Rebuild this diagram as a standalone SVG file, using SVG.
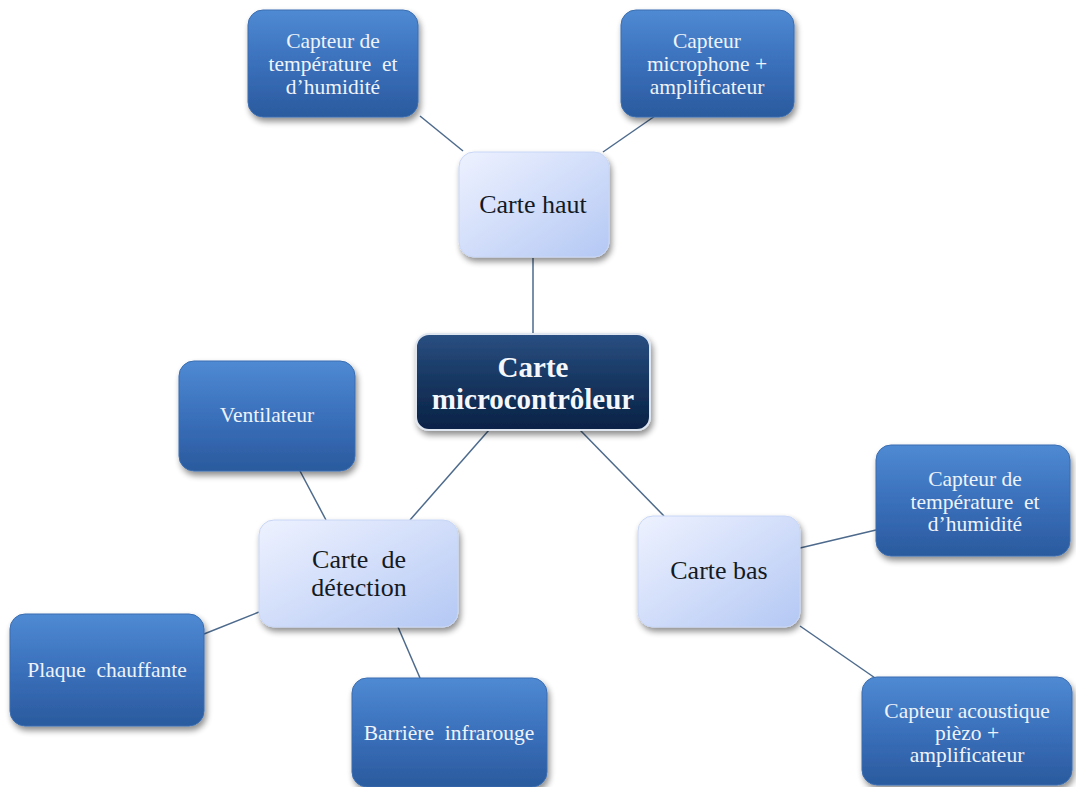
<svg xmlns="http://www.w3.org/2000/svg" width="1076" height="787" viewBox="0 0 1076 787">
<defs>
<linearGradient id="gBlue" x1="0" y1="0" x2="0" y2="1">
<stop offset="0" stop-color="#4f8ad3"/>
<stop offset="0.5" stop-color="#3a70bb"/>
<stop offset="1" stop-color="#2a5a9e"/>
</linearGradient>
<linearGradient id="gLight" x1="0" y1="0" x2="1" y2="1">
<stop offset="0" stop-color="#eef2ff"/>
<stop offset="1" stop-color="#b4c8f4"/>
</linearGradient>
<linearGradient id="gDark" x1="0" y1="0" x2="0" y2="1">
<stop offset="0" stop-color="#2a4f82"/>
<stop offset="0.5" stop-color="#163660"/>
<stop offset="1" stop-color="#0b2246"/>
</linearGradient>
<filter id="sh" x="-20%" y="-20%" width="140%" height="150%">
<feGaussianBlur in="SourceAlpha" stdDeviation="3"/>
<feOffset dx="2" dy="4" result="b"/>
<feComponentTransfer><feFuncA type="linear" slope="0.45"/></feComponentTransfer>
<feMerge><feMergeNode/><feMergeNode in="SourceGraphic"/></feMerge>
</filter>
</defs>
<style>
.blue{fill:url(#gBlue);stroke:#3b6db0;stroke-width:1;filter:url(#sh)}
.light{fill:url(#gLight);stroke:#c8d6f5;stroke-width:1;filter:url(#sh)}
.dark{fill:url(#gDark);stroke:#dfe6f0;stroke-width:2;filter:url(#sh)}
text{font-family:'Liberation Serif','Times New Roman','DejaVu Serif',serif;text-anchor:middle;white-space:pre}
.tb{font-size:21.5px;fill:#eef3fa}
.tl{font-size:26px;fill:#141a24}
.tc{font-size:29px;font-weight:bold;fill:#f4f7fc}
.c{stroke:#4d6a8c;stroke-width:1.5;fill:none}
</style>
<rect width="1076" height="787" fill="#ffffff"/>
<g id="connectors">
<line class="c" x1="420" y1="116" x2="463" y2="151"/>
<line class="c" x1="655" y1="116" x2="603" y2="152"/>
<line class="c" x1="533" y1="258" x2="533" y2="334"/>
<line class="c" x1="489" y1="430" x2="410" y2="520"/>
<line class="c" x1="580" y1="430" x2="664" y2="516"/>
<line class="c" x1="300" y1="471" x2="326" y2="520"/>
<line class="c" x1="204" y1="634" x2="259" y2="612"/>
<line class="c" x1="420" y1="678" x2="398" y2="627"/>
<line class="c" x1="800" y1="548" x2="876" y2="530"/>
<line class="c" x1="800" y1="626" x2="878" y2="680"/>
</g>
<g id="n_tl">
<rect class="blue" x="248" y="10" width="170" height="107" rx="15"/>
<text class="tb" x="333" y="48">Capteur de</text>
<text class="tb" x="333" y="71">température  et</text>
<text class="tb" x="333" y="94">d’humidité</text>
</g>
<g id="n_tr">
<rect class="blue" x="621" y="10" width="173" height="107" rx="15"/>
<text class="tb" x="707" y="48">Capteur</text>
<text class="tb" x="707" y="71">microphone +</text>
<text class="tb" x="707" y="94">amplificateur</text>
</g>
<g id="n_haut">
<rect class="light" x="459" y="152" width="150" height="105" rx="15"/>
<text class="tl" x="533" y="213">Carte haut</text>
</g>
<g id="n_center">
<rect class="dark" x="416" y="334" width="234" height="96" rx="13"/>
<text class="tc" x="533" y="377">Carte</text>
<text class="tc" x="533" y="409">microcontrôleur</text>
</g>
<g id="n_vent">
<rect class="blue" x="179" y="361" width="176" height="110" rx="15"/>
<text class="tb" x="267" y="422">Ventilateur</text>
</g>
<g id="n_det">
<rect class="light" x="259" y="520" width="199" height="107" rx="15"/>
<text class="tl" x="359" y="568">Carte  de</text>
<text class="tl" x="359" y="596">détection</text>
</g>
<g id="n_plaque">
<rect class="blue" x="10" y="614" width="194" height="112" rx="15"/>
<text class="tb" x="107" y="677">Plaque  chauffante</text>
</g>
<g id="n_barr">
<rect class="blue" x="352" y="678" width="195" height="109" rx="15"/>
<text class="tb" x="449" y="740">Barrière  infrarouge</text>
</g>
<g id="n_bas">
<rect class="light" x="638" y="516" width="162" height="111" rx="15"/>
<text class="tl" x="719" y="579">Carte bas</text>
</g>
<g id="n_br1">
<rect class="blue" x="876" y="445" width="194" height="111" rx="15"/>
<text class="tb" x="975" y="486">Capteur de</text>
<text class="tb" x="975" y="509">température  et</text>
<text class="tb" x="975" y="531">d’humidité</text>
</g>
<g id="n_br2">
<rect class="blue" x="862" y="677" width="210" height="108" rx="15"/>
<text class="tb" x="967" y="718">Capteur acoustique</text>
<text class="tb" x="967" y="740">pièzo +</text>
<text class="tb" x="967" y="762">amplificateur</text>
</g>
</svg>
